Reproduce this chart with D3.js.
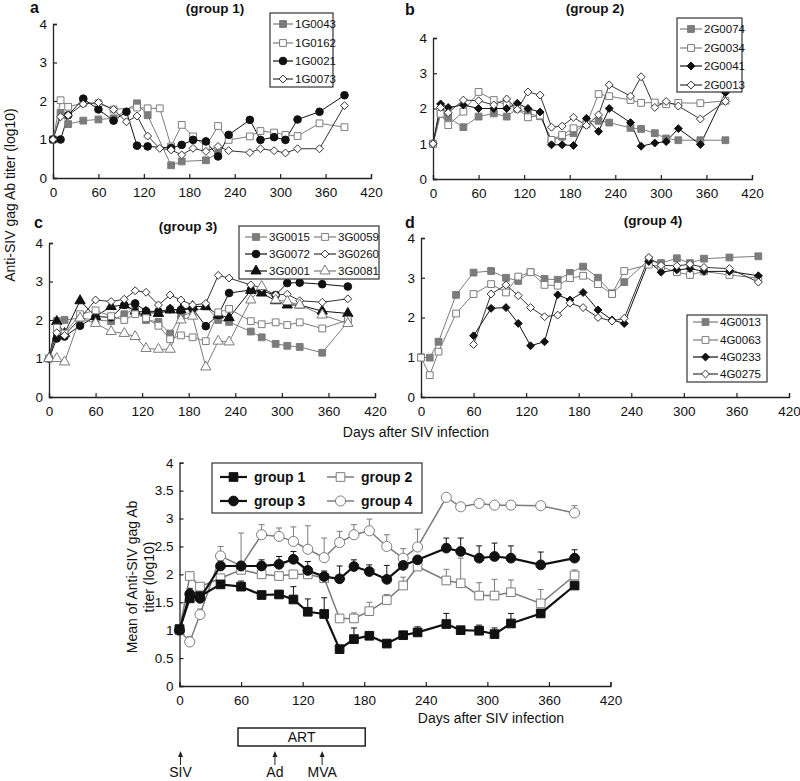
<!DOCTYPE html>
<html><head><meta charset="utf-8">
<script src="https://cdn.jsdelivr.net/npm/d3@7"></script>
<style>body{margin:0;background:#fff} text{font-family:"Liberation Sans",Arial,Helvetica,sans-serif;fill:#111}</style>
</head><body><svg id="c" width="800" height="781"></svg>
<script>
// ---------- DATA ----------
const DAYS = [0,10,20,40,60,80,97,111,125,141,156,170,185,202,218,232,260,274,292,307,323,352,385];
const X_TICKS = [0,60,120,180,240,300,360,420];
const Y_TICKS = [0,1,2,3,4];
const Y_TICKS_E = [0,0.5,1,1.5,2,2.5,3,3.5,4];
const N = null;

// group 1
const g1_1G0043 = [1.0,1.69,1.40,1.49,1.52,1.55,N,1.94,1.63,N,0.33,0.43,N,0.46,0.65,N,N,N,N,N,N,N,N];
const g1_1G0162 = [1.0,2.02,1.85,1.95,1.94,1.78,N,1.83,1.81,1.81,0.82,1.38,1.08,0.82,1.35,0.99,1.08,1.22,1.18,1.12,1.09,1.42,1.32];
const g1_1G0021 = [1.0,1.0,1.63,2.06,1.78,1.49,1.72,0.84,0.82,N,0.78,0.86,0.99,0.95,0.56,1.12,1.51,0.99,1.06,0.99,1.52,1.72,2.15];
const g1_1G0073 = [1.0,1.59,1.63,1.92,1.96,1.78,1.46,1.61,1.09,0.77,0.73,0.60,0.77,0.69,0.82,0.71,0.66,0.76,0.71,0.65,0.76,0.76,1.88];
// group 2
const g2_2G0074 = [1.0,1.85,1.75,1.47,1.77,1.86,1.77,2.0,1.85,1.78,1.1,1.2,1.3,1.6,1.65,1.6,1.45,1.42,1.3,1.15,1.1,1.1,1.1];
const g2_2G0034 = [1.0,1.85,1.53,1.91,2.47,2.24,2.1,2.0,1.75,1.8,1.11,1.25,1.44,1.55,2.41,2.35,2.24,2.16,2.17,2.12,2.16,2.15,2.22];
const g2_2G0041 = [1.0,2.13,2.03,2.1,2.0,2.0,2.0,2.15,2.0,1.9,0.97,0.97,0.95,1.72,1.35,2.0,1.6,0.93,1.02,1.06,1.43,0.98,2.45];
const g2_2G0013 = [1.0,2.03,1.88,2.24,2.22,2.1,2.27,1.97,2.47,2.38,1.47,1.5,1.75,1.52,1.82,2.67,2.35,2.9,2.03,2.2,2.07,1.7,2.2];
// group 3
const g3_3G0015 = [1.0,1.97,2.0,2.05,2.0,1.97,2.15,2.3,2.0,1.95,1.65,2.1,2.2,2.35,2.0,1.95,1.7,1.55,1.38,1.33,1.3,1.15,1.95];
const g3_3G0059 = [1.0,1.8,1.65,2.15,2.25,2.1,2.0,2.15,2.05,1.85,1.5,1.6,1.55,1.45,2.2,2.29,1.97,1.89,1.94,1.87,1.94,1.78,2.0];
const g3_3G0072 = [1.0,1.52,1.57,1.85,2.09,2.07,2.39,2.43,2.23,2.22,2.28,2.26,2.3,1.84,2.13,2.70,2.78,2.75,2.65,2.96,2.97,2.93,2.87];
const g3_3G0260 = [1.0,1.67,1.6,2.04,2.52,2.48,2.54,2.76,2.72,2.39,2.65,2.52,2.39,2.43,3.16,3.09,2.91,2.83,2.65,2.67,2.5,2.46,2.55];
const g3_3G0001 = [1.0,1.96,1.65,2.5,2.09,2.35,2.39,2.23,2.2,2.17,2.26,2.26,2.35,2.35,2.13,2.06,2.77,2.7,2.5,2.39,2.39,2.23,2.17];
const g3_3G0081 = [1.0,1.0,0.91,2.05,1.91,1.70,1.65,1.57,1.26,1.24,1.24,2.0,2.1,0.78,1.45,1.43,2.52,2.87,2.52,2.48,2.39,2.13,1.91];
// group 4
const g4_4G0013 = [1.0,0.99,1.39,2.57,3.13,3.17,3.0,2.92,3.14,2.97,2.95,3.12,3.28,3.0,2.61,2.89,3.45,3.37,3.49,3.37,3.48,3.51,3.54];
const g4_4G0063 = [0.99,0.55,1.14,2.1,2.59,2.84,2.63,3.03,3.14,2.82,2.80,2.99,3.05,2.84,2.59,3.17,3.33,3.28,3.14,3.07,3.16,3.07,2.99];
const g4_4G0233 = [N,N,N,N,1.54,2.23,2.25,1.85,1.29,1.39,2.57,2.44,2.63,2.19,1.94,1.85,3.41,3.14,3.2,3.23,3.16,3.16,3.05];
const g4_4G0275 = [N,N,N,N,1.32,2.59,2.82,2.55,2.25,2.02,2.06,2.36,2.25,2.0,1.91,1.98,3.51,3.31,3.3,3.34,3.26,3.23,2.89];
// group means (panel e) and upward error bars
const mean_g1 = [1.02,1.57,1.61,1.82,1.78,1.63,1.64,1.55,1.33,1.29,0.66,0.84,0.90,0.76,0.91,0.96,1.11,1.0,0.99,0.93,1.12,1.30,1.80];
const mean_g2 = [1.0,1.97,1.78,1.93,2.08,2.0,1.97,2.0,2.0,1.93,1.21,1.21,1.34,1.54,1.80,2.14,1.89,1.84,1.62,1.62,1.68,1.48,1.98];
const mean_g3 = [1.0,1.65,1.57,2.15,2.15,2.15,2.18,2.27,2.07,1.96,1.92,2.14,2.05,1.91,2.16,2.26,2.47,2.41,2.29,2.32,2.29,2.17,2.29];
const mean_g4 = [1.0,0.79,1.28,2.33,2.15,2.71,2.68,2.59,2.45,2.30,2.57,2.71,2.78,2.50,2.29,2.49,3.38,3.21,3.27,3.24,3.24,3.23,3.10];
const err_g1 = [0,0.05,0.05,0.05,0.1,0.05,0.05,0.23,0.23,0.29,0.05,0.2,0.05,0.05,0.05,0.1,0.19,0.05,0.1,0.11,0.18,0.05,0.05];
const err_g2 = [0,0.05,0.05,0.05,0.05,0.05,0.05,0.05,0.05,0.05,0.05,0.1,0.16,0.1,0.15,0.1,0.2,0.45,0.23,0.29,0.22,0.25,0.1];
const err_g3 = [0,0.1,0.05,0.1,0.05,0.11,0.14,0.14,0.16,0.1,0.23,0.12,0.12,0.25,0.1,0.05,0.18,0.24,0.22,0.24,0.22,0.23,0.15];
const err_g4 = [0,0.1,0.1,0.17,0.59,0.18,0.15,0.26,0.42,0.35,0.2,0.18,0.21,0.21,0.17,0.32,0.05,0.05,0.05,0.05,0.05,0.05,0.13];
// treatment annotations (days)
const ART_DAYS = [57,181];
const ARROWS = [{label:"SIV",day:1},{label:"Ad",day:93},{label:"MVA",day:139}];

// ---------- STYLE ----------
const GRAY = "#7c7c7c", BLACK = "#111";
const svg = d3.select("#c");
const diamond = {draw(ctx, size){ const r = Math.sqrt(size)/2*1.25; ctx.moveTo(0,-r); ctx.lineTo(r,0); ctx.lineTo(0,r); ctx.lineTo(-r,0); ctx.closePath(); }};
const sym = {sq:d3.symbolSquare, ci:d3.symbolCircle, di:diamond, tr:d3.symbolTriangle};

function marker(g, kind, filled, color, x, y, size){
  g.append("path").attr("d", d3.symbol().type(sym[kind]).size(size)())
   .attr("transform",`translate(${x},${y})`)
   .attr("fill", filled ? color : "#fff").attr("stroke", color).attr("stroke-width",1);
}

function axes(g, xs, ys, yt, fmt, fs){
  const xa = g.append("g").attr("transform",`translate(0,${ys.range()[0]})`)
    .call(d3.axisBottom(xs).tickValues(X_TICKS).tickSize(-4).tickPadding(9));
  const ya = g.append("g").attr("transform",`translate(${xs.range()[0]},0)`)
    .call(d3.axisLeft(ys).tickValues(yt).tickSize(-4).tickPadding(6).tickFormat(fmt));
  [xa,ya].forEach(a=>{
    a.select(".domain").attr("stroke","#222").attr("stroke-width",1.3);
    a.selectAll(".tick line").attr("stroke","#222").attr("stroke-width",1.2);
    a.selectAll("text").attr("font-size",fs).attr("fill","#111").style("font-family","Liberation Sans, Arial, sans-serif");
  });
}

function panel(cfg){
  const xs = d3.scaleLinear().domain([0,420]).range(cfg.xr);
  const ys = d3.scaleLinear().domain([0,4]).range(cfg.yr);
  const g = svg.append("g");
  axes(g, xs, ys, Y_TICKS, d3.format("d"), 13.5);
  const line = d3.line().x(d=>xs(d[0])).y(d=>ys(d[1]));
  cfg.series.forEach(s=>{
    const pts = DAYS.map((d,i)=>[d,s.vals[i]]).filter(p=>p[1]!=null);
    g.append("path").attr("d", line(pts)).attr("fill","none").attr("stroke", s.line||s.color).attr("stroke-width",1);
  });
  cfg.series.forEach(s=>{
    const pts = DAYS.map((d,i)=>[d,s.vals[i]]).filter(p=>p[1]!=null);
    pts.forEach(p=>marker(g, s.kind, s.filled, s.color, xs(p[0]), ys(p[1]), s.size));
  });
  svg.append("text").attr("x",cfg.letter[0]).attr("y",cfg.letter[1]).attr("font-size",16).attr("font-weight","bold").text(cfg.id);
  svg.append("text").attr("x",cfg.title[0]).attr("y",cfg.title[1]).attr("text-anchor","middle").attr("font-size",13.5).attr("font-weight","bold").text(cfg.name);
  const L = cfg.legend;
  svg.append("rect").attr("x",L.box[0]).attr("y",L.box[1]).attr("width",L.box[2]).attr("height",L.box[3])
    .attr("fill","#fff").attr("stroke","#333").attr("stroke-width",1.2);
  cfg.series.forEach((s,i)=>{
    const [lx, ly] = L.pos[i];
    svg.append("line").attr("x1",lx).attr("x2",lx+L.w).attr("y1",ly).attr("y2",ly).attr("stroke",s.line||s.color).attr("stroke-width",1.2);
    marker(svg, s.kind, s.filled, s.color, lx+L.w/2, ly, s.size);
    svg.append("text").attr("x",lx+L.w+2).attr("y",ly+4).attr("font-size",11.5).text(s.name);
  });
}

const st = {
  sqF:{kind:"sq",filled:true,color:GRAY,size:46},
  sqO:{kind:"sq",filled:false,color:GRAY,size:46},
  ciF:{kind:"ci",filled:true,color:BLACK,size:46},
  diF:{kind:"di",filled:true,color:BLACK,size:40},
  diO:{kind:"di",filled:false,color:"#333",size:40},
  trF:{kind:"tr",filled:true,color:BLACK,size:46},
  trO:{kind:"tr",filled:false,color:GRAY,size:46}
};

panel({id:"a", name:"(group 1)", xr:[53,371], yr:[178,24], letter:[30,13], title:[215,13],
  series:[
    {name:"1G0043", vals:g1_1G0043, ...st.sqF},
    {name:"1G0162", vals:g1_1G0162, ...st.sqO},
    {name:"1G0021", vals:g1_1G0021, ...st.ciF},
    {name:"1G0073", vals:g1_1G0073, ...st.diO}],
  legend:{box:[270,13,63,74], w:20, pos:[[273,24],[273,43],[273,61],[273,79]]}});

panel({id:"b", name:"(group 2)", xr:[433,752], yr:[179,38], letter:[405,15], title:[595,13],
  series:[
    {name:"2G0074", vals:g2_2G0074, ...st.sqF},
    {name:"2G0034", vals:g2_2G0034, ...st.sqO},
    {name:"2G0041", vals:g2_2G0041, ...st.diF},
    {name:"2G0013", vals:g2_2G0013, ...st.diO}],
  legend:{box:[677,18,65,74], w:22, pos:[[680,29],[680,48],[680,66],[680,85]]}});

panel({id:"c", name:"(group 3)", xr:[49,375], yr:[397,243], letter:[34,228], title:[188,231],
  series:[
    {name:"3G0015", vals:g3_3G0015, ...st.sqF},
    {name:"3G0072", vals:g3_3G0072, ...st.ciF},
    {name:"3G0001", vals:g3_3G0001, ...st.trF},
    {name:"3G0059", vals:g3_3G0059, ...st.sqO},
    {name:"3G0260", vals:g3_3G0260, ...st.diO},
    {name:"3G0081", vals:g3_3G0081, ...st.trO}],
  legend:{box:[239,226,140,53], w:22, pos:[[245,237],[245,254],[245,271],[314,237],[314,254],[314,271]]}});

panel({id:"d", name:"(group 4)", xr:[421,789], yr:[397,238], letter:[405,228], title:[653,225],
  series:[
    {name:"4G0013", vals:g4_4G0013, ...st.sqF},
    {name:"4G0063", vals:g4_4G0063, ...st.sqO},
    {name:"4G0233", vals:g4_4G0233, ...st.diF},
    {name:"4G0275", vals:g4_4G0275, ...st.diO}],
  legend:{box:[687,315,80,67], w:25, pos:[[693,322],[693,340],[693,357],[693,374]]}});

svg.append("text").attr("transform","translate(15,195) rotate(-90)").attr("text-anchor","middle").attr("font-size",14)
  .text("Anti-SIV gag Ab titer (log10)");
svg.append("text").attr("x",416).attr("y",437).attr("text-anchor","middle").attr("font-size",14).text("Days after SIV infection");

// ---------- panel e ----------
(function(){
  const xs = d3.scaleLinear().domain([0,420]).range([179.5,610.5]);
  const ys = d3.scaleLinear().domain([0,4]).range([686,462.7]);
  const g = svg.append("g");
  axes(g, xs, ys, Y_TICKS_E, d => d===0?"0":String(d), 13.5);
  svg.append("text").attr("x",491).attr("y",723).attr("text-anchor","middle").attr("font-size",14).text("Days after SIV infection");
  const yl = svg.append("text").attr("transform","translate(137,577) rotate(-90)").attr("text-anchor","middle").attr("font-size",14);
  yl.append("tspan").attr("x",0).attr("dy",0).text("Mean of Anti-SIV gag Ab");
  yl.append("tspan").attr("x",0).attr("dy",17).text("titer (log10)");

  const groups = [
    {name:"group 1", vals:mean_g1, err:err_g1, kind:"sq", filled:true, color:BLACK, lw:2.2, size:75},
    {name:"group 2", vals:mean_g2, err:err_g2, kind:"sq", filled:false, color:GRAY, lw:1.5, size:75},
    {name:"group 3", vals:mean_g3, err:err_g3, kind:"ci", filled:true, color:BLACK, lw:2.2, size:75},
    {name:"group 4", vals:mean_g4, err:err_g4, kind:"ci", filled:false, color:GRAY, lw:1.5, size:80}
  ];
  const line = d3.line().x(d=>xs(d[0])).y(d=>ys(d[1]));
  groups.forEach(s=>{
    DAYS.forEach((d,i)=>{
      if(!s.err[i]) return;
      const x = xs(d), y0 = ys(s.vals[i]), y1 = ys(s.vals[i]+s.err[i]);
      g.append("line").attr("x1",x).attr("x2",x).attr("y1",y0).attr("y2",y1).attr("stroke",s.color).attr("stroke-width",1);
      g.append("line").attr("x1",x-3).attr("x2",x+3).attr("y1",y1).attr("y2",y1).attr("stroke",s.color).attr("stroke-width",1);
    });
  });
  [groups[1],groups[3],groups[0],groups[2]].forEach(s=>{
    const pts = DAYS.map((d,i)=>[d,s.vals[i]]);
    g.append("path").attr("d",line(pts)).attr("fill","none").attr("stroke",s.color).attr("stroke-width",s.lw);
    pts.forEach(p=>marker(g,s.kind,s.filled,s.color,xs(p[0]),ys(p[1]),s.size));
  });
  svg.append("rect").attr("x",212).attr("y",463).attr("width",210).attr("height",50).attr("fill","#fff").attr("stroke","#333").attr("stroke-width",1.2);
  const lp = [[220,477],[327,477],[220,501],[327,501]];
  groups.forEach((s,i)=>{
    const [lx,ly] = lp[i];
    svg.append("line").attr("x1",lx).attr("x2",lx+27).attr("y1",ly).attr("y2",ly).attr("stroke",s.color).attr("stroke-width",s.lw);
    marker(svg,s.kind,s.filled,s.color,lx+13.5,ly,s.size);
    svg.append("text").attr("x",lx+34).attr("y",ly+5).attr("font-size",14).attr("font-weight","bold").text(s.name);
  });
  svg.append("rect").attr("x",xs(ART_DAYS[0])).attr("y",728).attr("width",xs(ART_DAYS[1])-xs(ART_DAYS[0])).attr("height",18)
    .attr("fill","#fff").attr("stroke","#222").attr("stroke-width",1.5);
  svg.append("text").attr("x",(xs(ART_DAYS[0])+xs(ART_DAYS[1]))/2).attr("y",742).attr("text-anchor","middle").attr("font-size",14).text("ART");
  ARROWS.forEach(a=>{
    const x = xs(a.day);
    svg.append("line").attr("x1",x).attr("x2",x).attr("y1",754).attr("y2",765).attr("stroke","#222").attr("stroke-width",1);
    svg.append("path").attr("d",`M${x-2.5},757 L${x},751 L${x+2.5},757 Z`).attr("fill","#222");
    svg.append("text").attr("x",x).attr("y",777).attr("text-anchor","middle").attr("font-size",14).text(a.label);
  });
})();
</script></body></html>
